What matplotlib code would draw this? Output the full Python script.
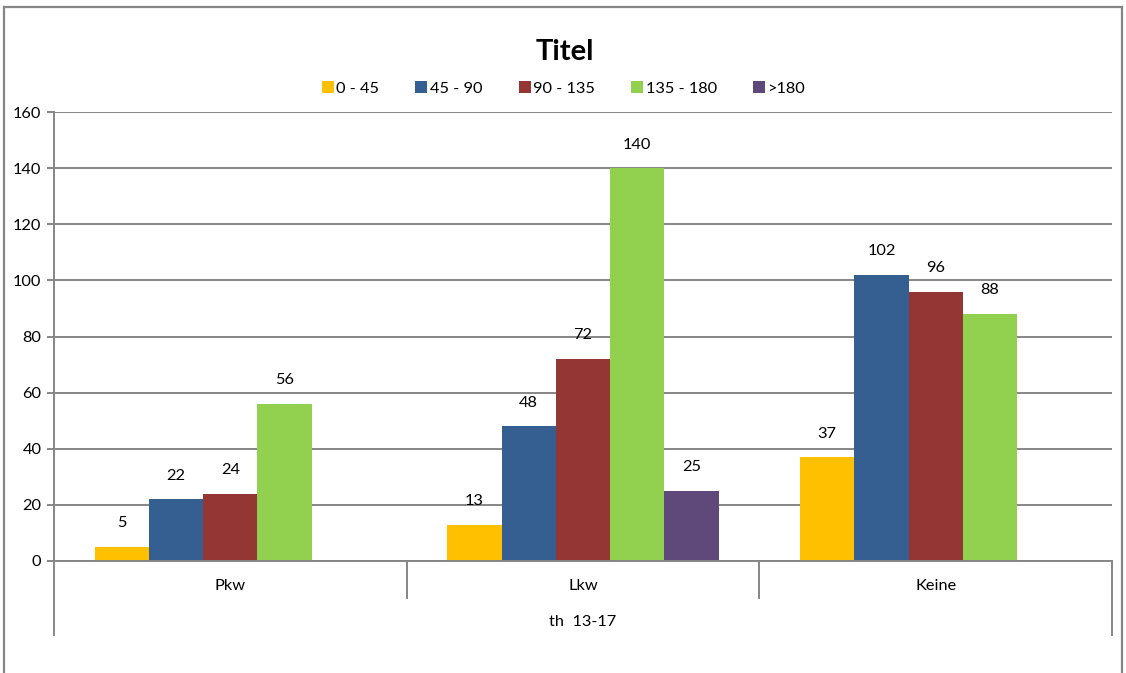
import numpy as np
import matplotlib
matplotlib.use("Agg")
import matplotlib.pyplot as plt
from matplotlib.lines import Line2D
from matplotlib.transforms import blended_transform_factory

plt.rcParams["font.family"] = ["Lato", "DejaVu Sans"]

categories = ["Pkw", "Lkw", "Keine"]
group_label = "th  13-17"
series_names = ["0 - 45", "45 - 90", "90 - 135", "135 - 180", ">180"]
values_0_45 = [5, 13, 37]
values_45_90 = [22, 48, 102]
values_90_135 = [24, 72, 96]
values_135_180 = [56, 140, 88]
values_over_180 = [np.nan, 25, np.nan]
series_values = [values_0_45, values_45_90, values_90_135, values_135_180, values_over_180]
colors = ["#FFC000", "#355E91", "#943634", "#92D050", "#5F497A"]
y_ticks = [0, 20, 40, 60, 80, 100, 120, 140, 160]

W, H = 1126, 673
FS = 11.8
fig = plt.figure(figsize=(W / 100, H / 100), dpi=100)
grey = "#868686"

# outer chart border (open at the bottom)
for xs, ys in [([4 / W, 4 / W], [0, 1 - 7 / H]),
               ([4 / W, 1122 / W], [1 - 7 / H, 1 - 7 / H]),
               ([1122 / W, 1122 / W], [1 - 7 / H, 0])]:
    fig.add_artist(Line2D(xs, ys, color=grey, lw=1.6, transform=fig.transFigure))

left, right, top, bottom = 54, 1112, 112, 561
ax = fig.add_axes([left / W, 1 - bottom / H, (right - left) / W, (bottom - top) / H])

n = len(series_names)
bar_w = 1 / (n + 1.5)
x = np.arange(len(categories))
for i, (name, vals, c) in enumerate(zip(series_names, series_values, colors)):
    pos = x + (i - (n - 1) / 2) * bar_w
    ax.bar(pos, vals, width=bar_w, color=c, label=name, zorder=3)
    for px, v in zip(pos, vals):
        if not np.isnan(v):
            ax.annotate(f"{v:g}", (px, v), xytext=(0, 17), textcoords="offset points",
                        ha="center", va="center", fontsize=FS, color="#000000")

ax.set_xlim(-0.5, len(categories) - 0.5)
ax.set_ylim(0, 160)
ax.set_yticks(y_ticks)
ax.yaxis.grid(True, color=grey, lw=1.4, zorder=0)
ax.set_axisbelow(True)
ax.tick_params(axis="y", direction="out", length=5, width=1.4, color=grey,
               labelsize=FS, pad=4)
ax.set_xticks([])
for s in ["top", "right"]:
    ax.spines[s].set_visible(False)
for s in ["left", "bottom"]:
    ax.spines[s].set_color(grey)
    ax.spines[s].set_linewidth(1.4)
    ax.spines[s].set_zorder(4)

# two-level category axis
trans = blended_transform_factory(ax.transData, ax.transAxes)
ah = bottom - top
inner = -(598 - bottom) / ah
outer = -(635 - bottom) / ah
for xb in np.arange(-0.5, len(categories), 1.0):
    ylow = outer if xb in (-0.5, len(categories) - 0.5) else inner
    ax.plot([xb, xb], [0, ylow], color=grey, lw=1.4, transform=trans, clip_on=False)
for xc, lab in zip(x, categories):
    ax.text(xc, -(586 - bottom) / ah, lab, transform=trans, ha="center", va="center",
            fontsize=FS)
ax.text((len(categories) - 1) / 2, -(622 - bottom) / ah, group_label, transform=trans,
        ha="center", va="center", fontsize=FS)

fig.text(565 / W, 1 - 52 / H, "Titel", ha="center", va="center", fontsize=21,
         fontweight="bold")

handles = [Line2D([], [], marker="s", ls="none", markersize=8, color=c,
                  markeredgewidth=0) for c in colors]
fig.legend(handles, series_names, loc="center", bbox_to_anchor=(564 / W, 1 - 89 / H),
           ncol=n, frameon=False, fontsize=FS, handlelength=0.6, handletextpad=0.2,
           columnspacing=2.3, borderaxespad=0)

fig.savefig("out.png", dpi=100)
